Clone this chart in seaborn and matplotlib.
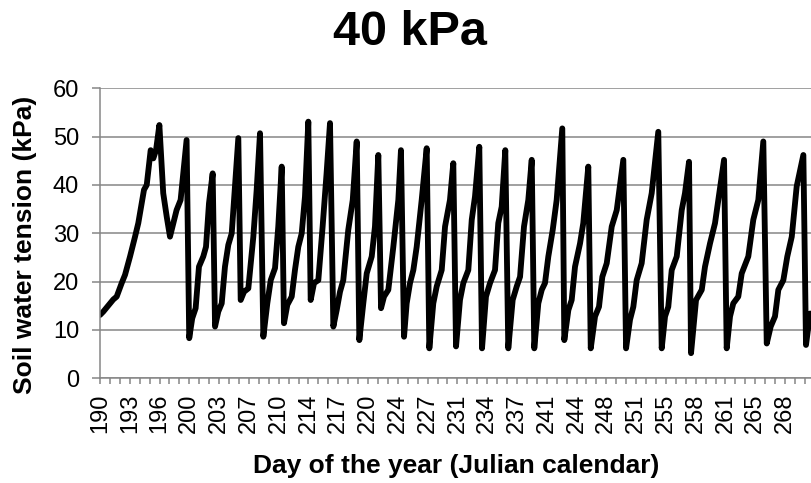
# soil water tension, 40 kPa treatment
import numpy as np
import matplotlib
matplotlib.use("Agg")
import matplotlib.pyplot as plt
from matplotlib.ticker import FixedLocator
import seaborn as sns

# ==================================
# DATA
# ==================================
day = [190.00, 190.38, 191.14, 191.51, 191.90, 192.47, 192.85, 193.42, 193.99, 194.36,
       194.75, 195.01, 195.32, 195.77, 196.07, 196.38, 196.76, 197.20, 197.60, 197.97,
       198.35, 198.72, 199.18, 199.86, 200.16, 200.50, 200.89, 201.27, 201.76, 202.07,
       202.41, 202.83, 203.10, 203.47, 203.86, 204.23, 204.61, 205.00, 205.37, 205.75,
       206.02, 206.40, 206.89, 207.46, 207.84, 208.22, 208.60, 209.05, 209.44, 209.93,
       210.30, 210.69, 210.95, 211.33, 211.83, 212.20, 212.58, 212.97, 213.34, 213.72,
       213.99, 214.37, 214.86, 215.35, 215.80, 216.19, 216.57, 216.95, 217.33, 217.70,
       218.27, 218.78, 219.23, 219.53, 219.98, 220.37, 220.94, 221.31, 221.69, 222.00,
       222.34, 222.83, 223.40, 223.97, 224.27, 224.62, 224.92, 225.30, 225.68, 226.06,
       226.63, 227.20, 227.50, 227.95, 228.34, 228.91, 229.29, 229.85, 230.23, 230.54,
       230.99, 231.37, 231.94, 232.33, 232.70, 233.19, 233.50, 233.95, 234.41, 234.98,
       235.35, 235.74, 236.15, 236.49, 236.99, 237.45, 237.83, 238.28, 238.77, 239.16,
       239.45, 239.91, 240.30, 240.67, 241.05, 241.55, 242.00, 242.64, 242.87, 243.33,
       243.71, 244.09, 244.66, 245.03, 245.60, 245.88, 246.37, 246.82, 247.20, 247.70,
       248.27, 248.84, 249.59, 249.90, 250.35, 250.73, 251.11, 251.68, 252.25, 252.82,
       253.57, 253.96, 254.34, 254.71, 255.10, 255.67, 256.24, 256.61, 257.07, 257.30,
       257.87, 258.52, 258.89, 259.46, 260.03, 260.52, 261.06, 261.36, 261.74, 262.11,
       262.68, 263.07, 263.82, 264.39, 264.96, 265.53, 265.92, 266.37, 266.86, 267.24,
       267.81, 268.26, 268.77, 269.33, 270.09, 270.39, 270.85]

tension = [13.1, 13.8, 15.5, 16.3, 16.9, 19.7, 21.4, 25.2, 29.3, 32.1,
           36.2, 39.0, 40.0, 47.2, 45.5, 47.2, 52.4, 38.3, 33.4, 29.3,
           32.1, 34.8, 36.9, 49.3, 8.3, 12.4, 14.5, 23.1, 25.2, 27.2,
           36.2, 42.4, 10.7, 13.8, 15.5, 23.1, 27.6, 30.0, 39.7, 49.7,
           16.2, 17.9, 18.6, 29.3, 39.0, 50.7, 8.6, 15.5, 20.3, 22.8,
           31.4, 43.8, 11.4, 15.2, 16.9, 22.4, 27.2, 30.0, 37.6, 53.1,
           16.2, 19.7, 20.3, 31.4, 42.4, 52.8, 10.7, 14.1, 17.9, 20.3,
           30.7, 36.9, 49.0, 7.9, 15.5, 21.7, 25.2, 31.4, 46.2, 14.5,
           16.9, 18.3, 27.2, 36.9, 47.2, 8.6, 15.5, 19.7, 22.4, 27.2,
           36.9, 47.6, 6.2, 15.5, 19.0, 22.4, 31.4, 36.9, 44.5, 6.6,
           16.2, 19.7, 22.4, 32.8, 37.6, 47.9, 6.2, 16.9, 19.7, 22.4,
           32.1, 35.5, 47.2, 6.2, 16.2, 19.0, 21.0, 31.4, 36.9, 45.2,
           6.2, 15.5, 18.3, 19.7, 25.2, 30.7, 36.9, 51.7, 7.9, 14.1,
           16.2, 23.1, 27.9, 32.1, 43.8, 6.2, 12.8, 14.8, 21.0, 23.8,
           31.4, 34.8, 45.2, 6.2, 12.1, 14.8, 20.3, 23.8, 32.8, 38.3,
           51.0, 6.2, 12.8, 14.8, 22.4, 25.2, 34.8, 38.3, 44.8, 5.2,
           16.2, 18.3, 23.1, 27.9, 32.1, 38.3, 45.2, 6.2, 12.8, 15.5,
           16.9, 21.7, 25.2, 32.8, 36.9, 49.0, 7.2, 10.7, 12.8, 18.3,
           20.3, 25.2, 29.3, 39.7, 46.2, 6.9, 13.4]

day_labels = ["190", "193", "196", "200", "203", "207", "210", "214", "217", "220",
              "224", "227", "231", "234", "237", "241", "244", "248", "251", "255",
              "258", "261", "265", "268"]

# ==================================
# STYLE
# ==================================
sns.set_style("white")
plt.rcParams["font.family"] = ["Liberation Sans", "DejaVu Sans"]
plt.rcParams["text.color"] = "black"
grey = "#868686"

fig = plt.figure(figsize=(8.11, 4.83), dpi=100)
ax = fig.add_axes([100 / 811, 104.7 / 483, 711 / 811, 290 / 483])

sns.lineplot(x=day, y=tension, color="black", linewidth=4.2, sort=False, ax=ax)

# ==================================
# AXES
# ==================================
ax.set_xlim(190, 270.96)
ax.set_ylim(0, 60)
ax.set_yticks(np.arange(0, 61, 10))
ax.yaxis.grid(True, color=grey, linewidth=1.1)
ax.set_axisbelow(True)

label_pos = np.linspace(190, 268, len(day_labels))
ax.set_xticks(label_pos)
ax.set_xticklabels(day_labels, rotation=90)
step = label_pos[1] - label_pos[0]
ax.xaxis.set_minor_locator(FixedLocator(np.arange(190, 271, step / 3)))

for s in ["top", "right"]:
    ax.spines[s].set_visible(False)
for s in ["left", "bottom"]:
    ax.spines[s].set_color(grey)
    ax.spines[s].set_linewidth(1.1)

ax.tick_params(axis="y", which="major", direction="out", length=6, width=1.1,
               color=grey, labelcolor="black", labelsize=17, pad=9, left=True)
ax.tick_params(axis="x", which="both", direction="out", length=4.3, width=1.1,
               color=grey, labelcolor="black", bottom=True)
ax.tick_params(axis="x", which="major", labelsize=17, pad=7)

ax.set_xlabel("")
ax.set_ylabel("")

# ==================================
# TITLES
# ==================================
fig.text(409.5 / 811, (483 - 45) / 483, "40 kPa", ha="center", va="baseline",
         fontsize=35, fontweight="bold")
fig.text(456.5 / 811, (483 - 473) / 483, "Day of the year (Julian calendar)",
         ha="center", va="baseline", fontsize=19, fontweight="bold")
fig.text(25 / 811, (483 - 245) / 483, "Soil water tension (kPa)", rotation=90,
         ha="center", va="center", fontsize=19, fontweight="bold")

fig.savefig("out.png", dpi=100)
